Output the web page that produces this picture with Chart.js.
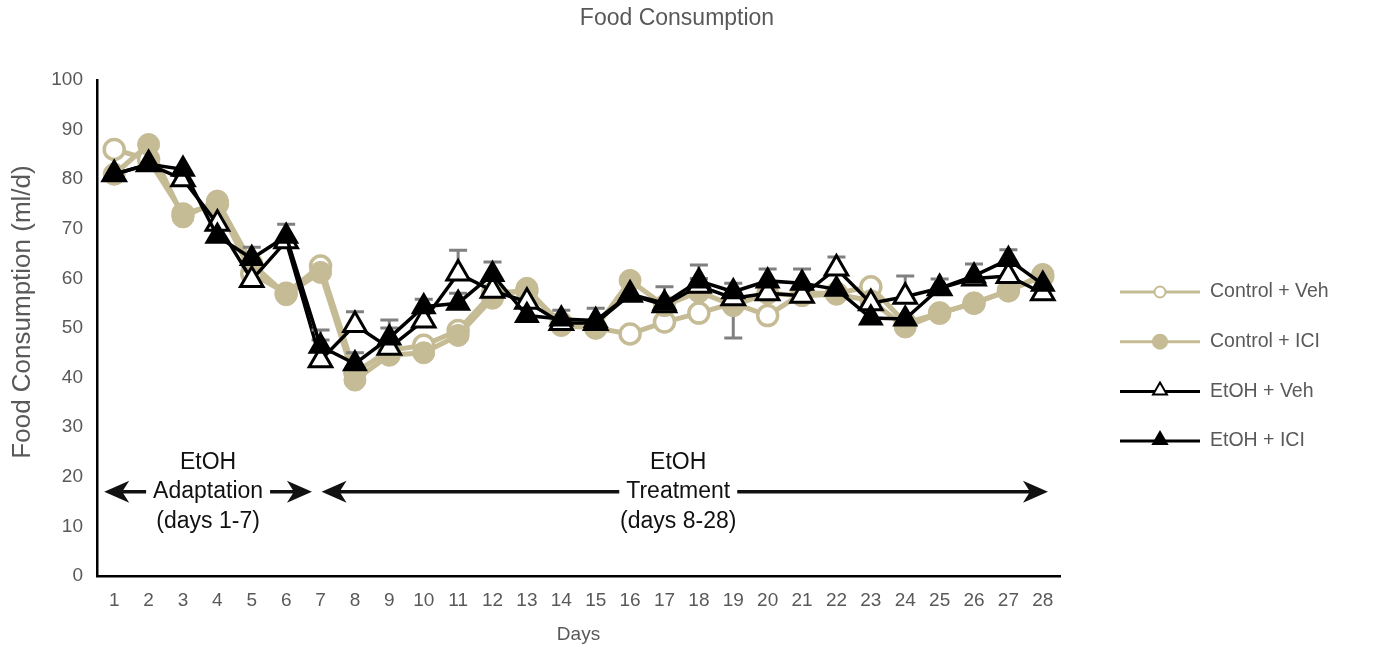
<!DOCTYPE html>
<html>
<head>
<meta charset="utf-8">
<title>Food Consumption</title>
<script src="https://cdn.jsdelivr.net/npm/chart.js@4.4.0/dist/chart.umd.min.js"></script>
<style>
  body { margin: 0; background: #fff; }
  #wrap { width: 1374px; height: 650px; }
</style>
</head>
<body>
<div id="wrap"><canvas id="chartCanvas" width="1374" height="650"></canvas></div>
<script>
const days = ["1", "2", "3", "4", "5", "6", "7", "8", "9", "10", "11", "12", "13", "14",
  "15", "16", "17", "18", "19", "20", "21", "22", "23", "24", "25", "26", "27", "28"];

const controlVeh = [86, 84, 73, 75, 61, 57, 62.5, 41, 45.5, 46.5, 49.5, 57, 57.5, 51,
  50, 48.8, 51.2, 53, 55, 52.5, 57, 57, 58.3, 51, 53, 55, 57.5, 60.5];
const controlIci = [81, 87, 72.4, 75.6, 63, 56.7, 61.2, 39.5, 44.5, 45, 48.5, 56, 58, 50.5,
  50, 59.6, 54.5, 57.3, 54.5, 57, 56.5, 56.8, 55.5, 50.2, 53, 55, 57.5, 60.8];
const etohVeh = [81, 83, 80, 71, 59.7, 67.5, 43.5, 50.6, 46, 51.5, 61, 57.5, 55.3, 51,
  51, 56.7, 54.6, 58.5, 56, 57, 56.5, 62, 55, 56.3, 58, 60, 60.5, 57];
const etohIci = [81, 83, 82, 68.5, 64, 68.5, 46.3, 42.8, 48, 54.3, 55, 60.8, 52.5, 51.8,
  51.5, 56.8, 55, 59.5, 57.3, 59.5, 59, 57.8, 52, 51.8, 58, 60.5, 63.8, 58.8];

// error bars (SEM), only the ones that show up in the figure
const controlVehErr = [null, null, null, null, null, null, null, null, null, null, null, null, null, null,
  null, null, null, null, 7, null, null, null, null, null, null, null, null, null];
const etohVehErr = [null, null, null, null, null, null, 4.1, 2.7, 4, null, 4.7, null, null, null,
  null, null, null, 1.5, 3, null, null, 2.3, null, 4.2, null, null, null, null];
const etohIciErr = [null, null, null, null, 2.3, 2.4, 3.3, 2.2, 3.6, 1.5, 2, 2.5, null, 1.8,
  2.5, null, 3.3, 3.2, null, 2.4, 2.9, null, null, null, 1.9, 2.4, 2, null];

const tan = "#c5bb95";
const grey = "#595959";
const fontName = "'Liberation Sans', Arial, sans-serif";
Chart.defaults.font.family = fontName;

const errorBars = {
  id: "errorBars",
  beforeDatasetDraw(chart, args) {
    const ds = chart.data.datasets[args.index];
    if (!ds.err) return;
    const ctx = chart.ctx;
    const y = chart.scales.y;
    ctx.save();
    ctx.strokeStyle = "#808080";
    ctx.lineWidth = 3;
    args.meta.data.forEach((pt, i) => {
      const e = ds.err[i];
      if (e == null) return;
      const yEnd = y.getPixelForValue(ds.data[i] + ds.errDir * e);
      ctx.beginPath();
      ctx.moveTo(pt.x, pt.y);
      ctx.lineTo(pt.x, yEnd);
      ctx.moveTo(pt.x - 9, yEnd);
      ctx.lineTo(pt.x + 9, yEnd);
      ctx.stroke();
    });
    ctx.restore();
  }
};

function arrowHead(ctx, x, y, dir) {
  ctx.beginPath();
  ctx.moveTo(x, y);
  ctx.lineTo(x - dir * 25, y - 11);
  ctx.lineTo(x - dir * 18, y);
  ctx.lineTo(x - dir * 25, y + 11);
  ctx.closePath();
  ctx.fill();
}

function phase(ctx, xa, xb, xc, y, lines) {
  ctx.font = "23px " + fontName;
  ctx.textAlign = "center";
  ctx.textBaseline = "middle";
  ctx.fillStyle = "#111";
  lines.forEach((t, i) => ctx.fillText(t, xc, y + (i - 1) * 29.5));
  const half = ctx.measureText(lines[1]).width / 2 + 7;
  ctx.strokeStyle = "#111";
  ctx.lineWidth = 3.5;
  ctx.beginPath();
  ctx.moveTo(xa + 10, y);
  ctx.lineTo(xc - half, y);
  ctx.moveTo(xc + half, y);
  ctx.lineTo(xb - 10, y);
  ctx.stroke();
  arrowHead(ctx, xa, y, -1);
  arrowHead(ctx, xb, y, 1);
}

const extras = {
  id: "extras",
  afterDraw(chart) {
    const ctx = chart.ctx;
    const area = chart.chartArea;
    const x = chart.scales.x;
    const y = chart.scales.y;
    ctx.save();

    // title
    ctx.font = "23px " + fontName;
    ctx.fillStyle = grey;
    ctx.textAlign = "center";
    ctx.textBaseline = "middle";
    ctx.fillText("Food Consumption", 677, 19);

    // y axis title
    ctx.save();
    ctx.translate(23, 312);
    ctx.rotate(-Math.PI / 2);
    ctx.font = "26px " + fontName;
    ctx.fillText("Food Consumption (ml/d)", 0, 0);
    ctx.restore();

    // phase annotations
    const ay = y.getPixelForValue(17);
    phase(ctx, x.getPixelForValue(-0.29), x.getPixelForValue(5.75), x.getPixelForValue(2.73), ay,
      ["EtOH", "Adaptation", "(days 1-7)"]);
    phase(ctx, x.getPixelForValue(6.03), x.getPixelForValue(27.15), x.getPixelForValue(16.4), ay,
      ["EtOH", "Treatment", "(days 8-28)"]);

    // legend
    chart.data.datasets.forEach((ds, i) => {
      const ly = 292 + i * 49.7;
      const lx = area.right + 60;
      ctx.strokeStyle = ds.borderColor;
      ctx.lineWidth = 3;
      ctx.beginPath();
      ctx.moveTo(lx, ly);
      ctx.lineTo(lx + 80, ly);
      ctx.stroke();
      ctx.fillStyle = ds.pointBackgroundColor;
      ctx.strokeStyle = ds.pointBorderColor;
      ctx.lineWidth = 2;
      const tri = ds.pointStyle === "triangle";
      Chart.helpers.drawPoint(ctx, {
        pointStyle: ds.pointStyle,
        radius: tri ? 8 : (ds.pointBackgroundColor === "#fff" ? 5.5 : 7),
        rotation: 0,
        borderWidth: 2
      }, lx + 40, tri ? ly - 1 : ly);
      ctx.fillStyle = grey;
      ctx.font = "19.5px " + fontName;
      ctx.textAlign = "left";
      ctx.fillText(ds.label, lx + 90, ly);
    });
    ctx.restore();
  }
};

const ctx = document.getElementById("chartCanvas").getContext("2d");
window.myChart = new Chart(ctx, {
  type: "line",
  data: {
    labels: days,
    datasets: [
      {
        label: "Control + Veh",
        data: controlVeh,
        err: controlVehErr,
        errDir: -1,
        borderColor: tan,
        borderWidth: 5,
        pointStyle: "circle",
        pointRadius: 10,
        pointBorderWidth: 3.5,
        pointBackgroundColor: "#fff",
        pointBorderColor: tan,
        order: 4
      },
      {
        label: "Control + ICI",
        data: controlIci,
        borderColor: tan,
        borderWidth: 5,
        pointStyle: "circle",
        pointRadius: 11,
        pointBorderWidth: 1,
        pointBackgroundColor: tan,
        pointBorderColor: tan,
        order: 3
      },
      {
        label: "EtOH + Veh",
        data: etohVeh,
        err: etohVehErr,
        errDir: 1,
        borderColor: "#000",
        borderWidth: 3.5,
        pointStyle: "triangle",
        pointRadius: 13,
        pointBorderWidth: 3,
        pointBackgroundColor: "#fff",
        pointBorderColor: "#000",
        order: 2
      },
      {
        label: "EtOH + ICI",
        data: etohIci,
        err: etohIciErr,
        errDir: 1,
        borderColor: "#000",
        borderWidth: 3.5,
        pointStyle: "triangle",
        pointRadius: 13,
        pointBorderWidth: 2,
        pointBackgroundColor: "#000",
        pointBorderColor: "#000",
        order: 1
      }
    ]
  },
  options: {
    responsive: false,
    animation: false,
    layout: { padding: { top: 80, right: 314, left: 0, bottom: 0 } },
    plugins: {
      legend: { display: false },
      tooltip: { enabled: false }
    },
    scales: {
      x: {
        type: "category",
        offset: true,
        grid: { display: false, drawTicks: false },
        border: { display: true, color: "#000", width: 2.5 },
        ticks: { color: grey, font: { size: 19 }, padding: 13, maxRotation: 0, autoSkip: false },
        title: { display: true, text: "Days", color: grey, font: { size: 19 }, padding: { top: 0, bottom: 4 } },
        afterFit(scale) { scale.height = 74; }
      },
      y: {
        min: 0,
        max: 100,
        grid: { display: false, drawTicks: false },
        border: { display: true, color: "#000", width: 2.5 },
        ticks: { stepSize: 10, color: grey, font: { size: 19 }, padding: 14 },
        afterFit(scale) { scale.width = 97; }
      }
    }
  },
  plugins: [errorBars, extras]
});
</script>
</body>
</html>
